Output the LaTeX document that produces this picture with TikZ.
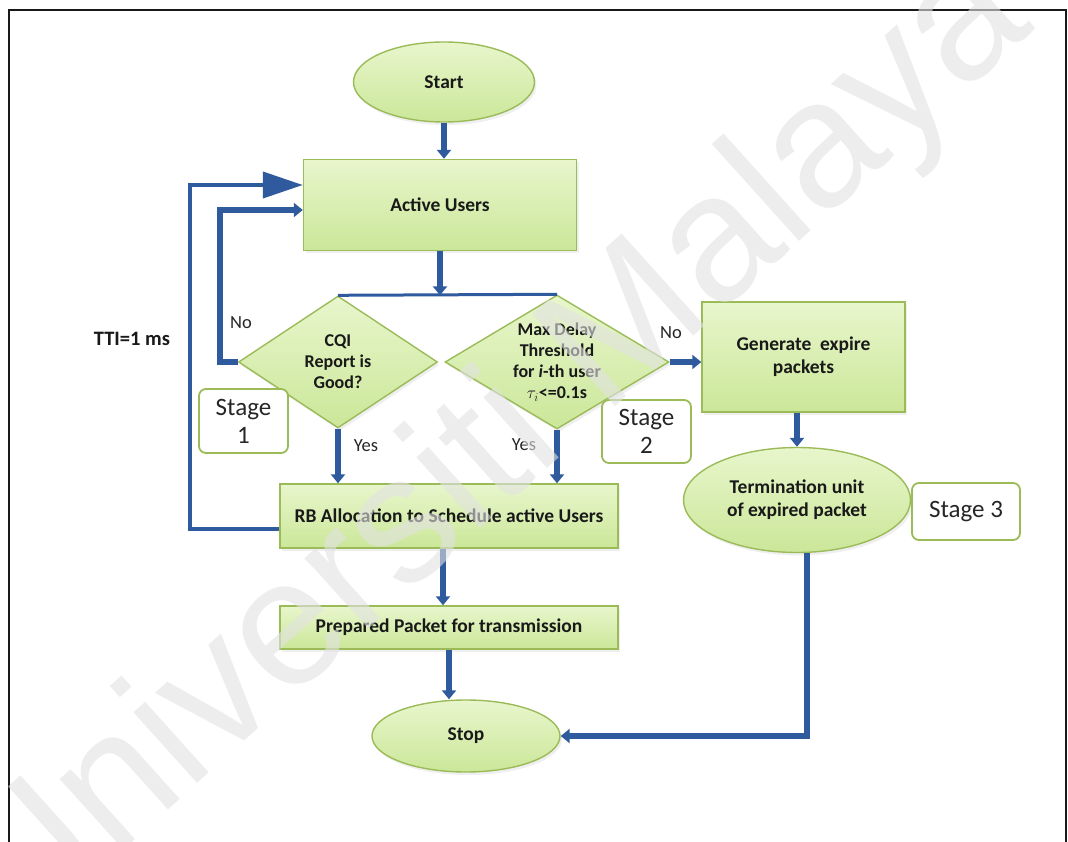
\documentclass[tikz,border=0pt]{standalone}
\usepackage{fontspec}
\setmainfont{Carlito}
\newfontfamily\wmfont{Liberation Sans}
\usetikzlibrary{shapes.geometric,arrows.meta,calc,shadows}

\definecolor{flowblue}{HTML}{2F5A9E}
\definecolor{boxedge}{HTML}{9BBB59}
\definecolor{boxtop}{HTML}{E8F6CC}
\definecolor{boxbot}{HTML}{CBE799}
\definecolor{wmgray}{HTML}{E2E2E2}

\tikzset{
  greenbox/.style={draw=boxedge, line width=1.4pt, top color=boxtop, bottom color=boxbot,
    inner sep=2pt, align=center, text=black!90,
    font=\bfseries\fontsize{19.5}{23}\selectfont,
    drop shadow={opacity=0.12, shadow xshift=2pt, shadow yshift=-3pt}},
  procbox/.style={greenbox, rectangle},
  termnode/.style={greenbox, ellipse},
  decision/.style={greenbox, diamond, inner sep=0pt},
  dectext/.style={align=center, font=\bfseries\fontsize{18}{21}\selectfont, text=black!90},
  stagebox/.style={draw=boxedge, line width=1.8pt, fill=white, rounded corners=7pt,
    align=center, inner sep=0pt, font=\fontsize{25}{28}\selectfont, text=black!85},
  flow/.style={draw=flowblue, line width=5.5pt, -{Triangle[length=9pt, width=14pt]}},
  bigloop/.style={draw=flowblue, line width=4pt, -{Triangle[length=40pt, width=26pt]}},
  joinline/.style={draw=flowblue, line width=3pt},
  edgelabel/.style={font=\fontsize{18.5}{20}\selectfont, text=black!85},
  watermark/.style={text=wmgray, opacity=0.6, font=\wmfont\fontsize{180}{180}\selectfont}
}

\begin{document}
\begin{tikzpicture}[x=1pt, y=-1pt]
  % page area and outer frame
  \useasboundingbox (0,0) rectangle (1068,842);
  \fill[white] (0,0) rectangle (1068,842);
  \draw[black!90, line width=2.5pt] (9,850) -- (9,10) -- (1066,10) -- (1066,850);

  % flowchart blocks
  \node[termnode, minimum width=181pt, minimum height=80pt] (start) at (444,82) {Start};
  \node[procbox, minimum width=273pt, minimum height=91pt] (active) at (440,205) {Active Users};

  \node[decision, minimum width=199pt, minimum height=132pt] (d1) at (338,362) {};
  \node[dectext] (d1text) at (d1.center) {CQI\\Report is\\Good?};
  \node[decision, minimum width=224pt, minimum height=134pt] (d2) at (557,362) {};
  \node[dectext] (d2text) at (d2.center) {Max Delay\\Threshold\\for \textit{i}-th user\\$\tau_i$<=0.1s};

  \node[procbox, minimum width=203pt, minimum height=110pt] (gen) at (803.5,357) {Generate\ \ expire\\packets};
  \node[termnode, minimum width=227pt, minimum height=105pt] (term) at (797,500) {Termination unit\\of expired packet};

  \node[procbox, minimum width=338pt, minimum height=64pt] (rb) at (449,516) {RB Allocation to Schedule active Users};
  \node[procbox, minimum width=338pt, minimum height=43pt] (prep) at (449,627.5) {Prepared Packet for transmission};
  \node[termnode, minimum width=188pt, minimum height=72pt] (stop) at (466,736) {Stop};

  % stage tags
  \node[stagebox, minimum width=89pt, minimum height=64pt] (stage1) at (243.5,421) {Stage\\1};
  \node[stagebox, minimum width=89pt, minimum height=63pt] (stage2) at (646.5,431.5) {Stage\\2};
  \node[stagebox, minimum width=108pt, minimum height=57pt] (stage3) at (966,511.5) {Stage 3};

  % bend points of the feedback loops
  \coordinate (noCorner) at (220,210);
  \coordinate (ttiCorner) at (190,185);

  % connectors
  \draw[flow] (start.south) -- (start.south |- active.north);
  \draw[flow] (active.south) -- (active.south |- d1.north);
  \draw[joinline] (d1.north) -- (d2.north);

  \draw[flow] (d1.west) -| (noCorner) -- (noCorner -| active.west);
  \draw[bigloop] ([yshift=-13pt]rb.west) -| (ttiCorner) -- (ttiCorner -| active.west);

  \draw[flow] (d1.south) -- (d1.south |- rb.north);
  \draw[flow] (d2.south) -- (d2.south |- rb.north);
  \draw[flow] (d2.east) -- (d2.east -| gen.west);
  \draw[flow] (term.north |- gen.south) -- (term.north);
  \draw[flow] ([xshift=10pt]term.south) |- (stop.east);

  \draw[flow] ([xshift=-6pt]rb.south) -- ([xshift=-6pt]rb.south |- prep.north);
  \draw[flow] (prep.south) -- (prep.south |- stop.north);

  % edge labels
  \node[edgelabel] (noLeft) at (241,323) {No};
  \node[edgelabel] (noRight) at (671,333) {No};
  \node[edgelabel] (yesLeft) at (366,446) {Yes};
  \node[edgelabel] (yesRight) at (524,445) {Yes};
  \node[font=\bfseries\fontsize{20.5}{22}\selectfont, text=black!90] (tti) at (132,339) {TTI=1 ms};

  % repository watermark
  \node[watermark, rotate=42] (wm) at (496,452) {Universiti Malaya};
\end{tikzpicture}
\end{document}
